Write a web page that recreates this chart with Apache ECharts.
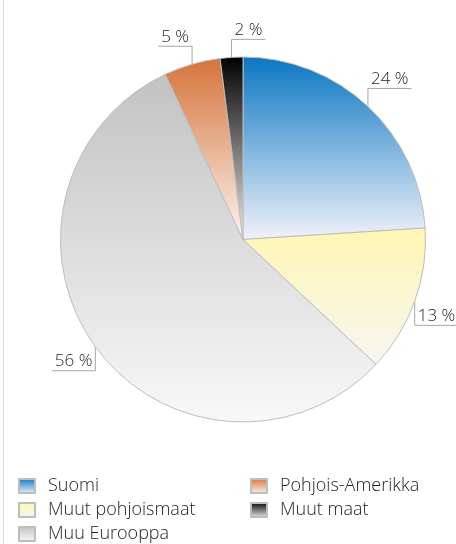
<!DOCTYPE html>
<html lang="fi">
<head>
    <meta charset="UTF-8">
    <title>Jakauma</title>
    <script src="https://cdn.jsdelivr.net/npm/echarts@6/dist/echarts.min.js"></script>
    <style>
        body { margin: 0; background: #fff; }
        .wrap { position: relative; width: 456px; height: 544px; }
        .edge { position: absolute; left: 3px; top: 0; width: 1px; height: 544px; background: #dcdcdc; }
        #chart { position: absolute; left: 0; top: 0; width: 456px; height: 544px; }
    </style>
</head>
<body>
    <div class="wrap">
        <div class="edge"></div>
        <div id="chart"></div>
    </div>

    <script>
        // data
        const names = ['Suomi', 'Muut pohjoismaat', 'Muu Eurooppa', 'Pohjois-Amerikka', 'Muut maat'];
        const shares = [24, 13, 56, 5, 2];
        const legendLeft = ['Suomi', 'Muut pohjoismaat', 'Muu Eurooppa'];
        const legendRight = ['Pohjois-Amerikka', 'Muut maat'];

        // top -> bottom colours of each slice
        const grads = [
            ['#0a76c3', '#f2f2f9'],
            ['#fff6b3', '#f7f6f1'],
            ['#c2c2c2', '#f8f8f8'],
            ['#d6733a', '#fbf4ef'],
            ['#000000', '#ececec']
        ];

        const CX = 243, CY = 239.5;
        const FONT = '"Open Sans", "DejaVu Sans", sans-serif';

        function vgrad(c) {
            return {
                type: 'linear', x: 0, y: 0, x2: 0, y2: 1,
                colorStops: [{ offset: 0, color: c[0] }, { offset: 1, color: c[1] }]
            };
        }

        const chart = echarts.init(document.getElementById('chart'));

        const legendBase = {
            orient: 'vertical',
            top: 477,
            height: 70,
            padding: 0,
            icon: 'rect',
            itemWidth: 16,
            itemHeight: 14,
            itemGap: 6,
            selectedMode: false,
            textStyle: { fontFamily: FONT, fontSize: 18, fontWeight: 300, color: '#1e1e1e', padding: [0, 0, 0, 8] }
        };

        chart.setOption({
            animation: false,
            legend: [
                Object.assign({}, legendBase, { left: 18, data: legendLeft }),
                Object.assign({}, legendBase, { left: 250, data: legendRight })
            ],
            series: [{
                type: 'pie',
                center: [CX, CY],
                radius: 182.5,
                startAngle: 90,
                clockwise: true,
                avoidLabelOverlap: false,
                emphasis: { disabled: true },
                itemStyle: { borderColor: '#bdbdbd', borderWidth: 1 },
                label: {
                    show: true,
                    position: 'outside',
                    formatter: '{c} %',
                    fontFamily: FONT,
                    fontSize: 17,
                    fontWeight: 300,
                    color: '#1e1e1e'
                },
                labelLine: { show: true, lineStyle: { color: '#a6a6a6', width: 1 } },
                labelLayout: function (p) {
                    const pts = p.labelLinePoints;
                    if (!pts) return {};
                    const x0 = pts[0][0], y0 = pts[0][1];
                    const yLine = y0 < CY ? y0 - 18 : y0 + 24;
                    const right = x0 > CX - 20;
                    const w = p.labelRect.width + 6;
                    const x1 = right ? x0 + w : x0 - w;
                    return {
                        x: (x0 + x1) / 2,
                        y: yLine - 1,
                        align: 'center',
                        verticalAlign: 'bottom',
                        labelLinePoints: [[x0, y0], [x0, yLine], [x1, yLine]]
                    };
                },
                data: names.map((n, i) => ({
                    name: n,
                    value: shares[i],
                    itemStyle: { color: vgrad(grads[i]) }
                }))
            }]
        });
    </script>
</body>
</html>
